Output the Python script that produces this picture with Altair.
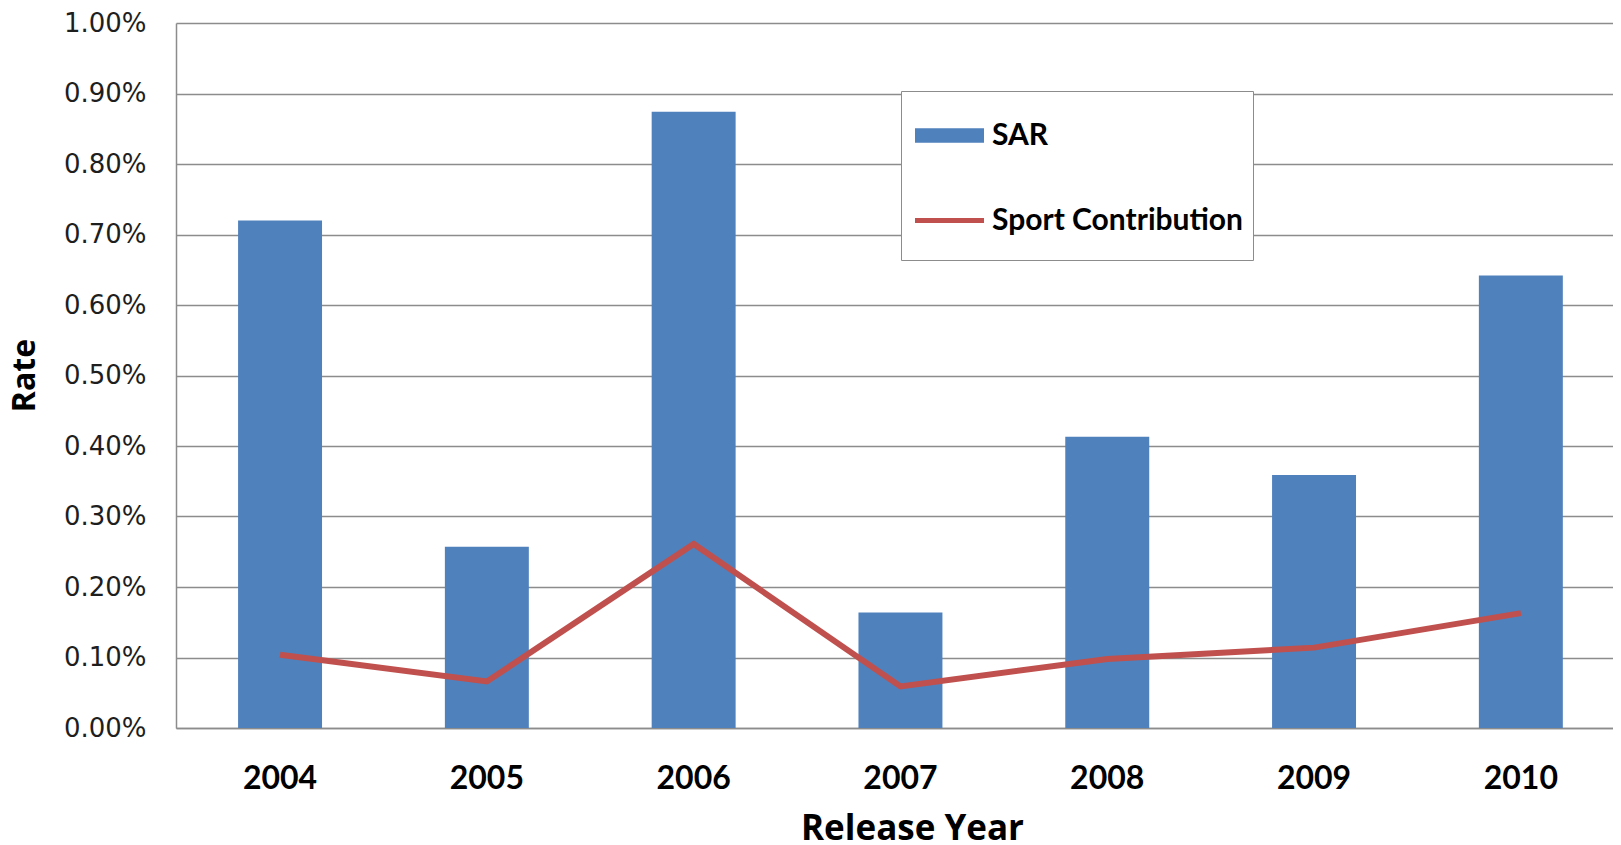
import altair as alt
import pandas as pd

years = ["2004", "2005", "2006", "2007", "2008", "2009", "2010"]
sar = [0.00720, 0.00257, 0.00874, 0.00164, 0.00413, 0.00359, 0.00642]
sport = [0.00104, 0.00066, 0.00261, 0.00059, 0.00098, 0.00114, 0.00163]
series = ["SAR", "Sport Contribution"]
colors = ["#4f81bd", "#c0504d"]
symbol_shapes = ["M-1,-0.21H1V0.21H-1Z", "M-1,-0.075H1V0.075H-1Z"]
y_ticks = [0.0, 0.001, 0.002, 0.003, 0.004, 0.005, 0.006, 0.007, 0.008, 0.009, 0.010]

rows = []
for i, yr in enumerate(years):
    rows.append({"year": yr, "series": series[0], "value": sar[i]})
    rows.append({"year": yr, "series": series[1], "value": sport[i]})
df = pd.DataFrame(rows)

x_enc = alt.X(
    "year:N",
    sort=years,
    scale=alt.Scale(paddingInner=0.594, paddingOuter=0.2714, align=0.553),
    axis=alt.Axis(
        title="Release Year",
        labelAngle=0,
        labelFont="Lato",
        labelFontSize=32,
        labelFontWeight="bold",
        labelColor="#000000",
        labelPadding=35,
        ticks=False,
        domainColor="#8c8c8c",
        domainWidth=1.5,
        titleFont="Open Sans",
        titleFontSize=35,
        titleFontWeight="bold",
        titleColor="#000000",
        titleX=736,
        titleY=111,
        titleAlign="center",
        titleBaseline="alphabetic",
        grid=False,
    ),
)
y_enc = alt.Y(
    "value:Q",
    scale=alt.Scale(domain=[0, 0.01], nice=False),
    axis=alt.Axis(
        title="Rate",
        values=y_ticks,
        format=".2%",
        labelFont="DejaVu Sans",
        labelFontSize=26,
        labelColor="#1e1e1e",
        labelPadding=30,
        ticks=False,
        domainColor="#8c8c8c",
        domainWidth=1.5,
        gridColor="#8c8c8c",
        gridWidth=1.3,
        titleFont="Open Sans",
        titleFontSize=32,
        titleFontWeight="bold",
        titleColor="#000000",
        titleX=-142,
        titleY=352,
        titleAlign="center",
        titleBaseline="alphabetic",
    ),
)

base = alt.Chart(df)

bars = base.transform_filter(alt.datum.series == series[0]).mark_bar(color=colors[0]).encode(
    x=x_enc,
    y=y_enc,
)

line = base.transform_filter(alt.datum.series == series[1]).mark_line(
    color=colors[1], strokeWidth=6
).encode(
    x=x_enc,
    y=y_enc,
)

legend_cfg = alt.Legend(
    title=" ",
    titleOrient="bottom",
    titleFontSize=2,
    titlePadding=12,
    orient="none",
    legendX=725,
    legendY=68,
    symbolSize=4761,
    symbolStrokeWidth=0,
    symbolOffset=4,
    rowPadding=35,
    padding=10,
    labelOffset=8,
    labelFont="Lato",
    labelFontSize=30,
    labelFontWeight="bold",
    labelColor="#000000",
    labelLimit=0,
    strokeColor="#8c8c8c",
    fillColor="#ffffff",
)

legend_layer = base.transform_filter("false").mark_point(filled=True, opacity=1).encode(
    x=x_enc,
    y=y_enc,
    color=alt.Color("series:N", scale=alt.Scale(domain=series, range=colors), legend=legend_cfg),
    shape=alt.Shape("series:N", scale=alt.Scale(domain=series, range=symbol_shapes), legend=legend_cfg),
)

chart = alt.layer(bars, line, legend_layer).properties(
    width=1437,
    height=705,
    autosize=alt.AutoSizeParams(type="none"),
    padding={"left": 168, "top": 15, "right": 0, "bottom": 114},
).configure_view(stroke=None)

chart.save("out.html", embed_options={"renderer": "svg", "actions": False})
